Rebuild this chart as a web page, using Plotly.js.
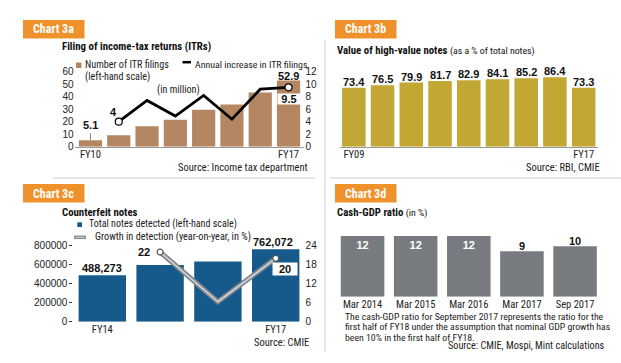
<!DOCTYPE html>
<html><head><meta charset="utf-8">
<script src="https://cdn.plot.ly/plotly-3.0.1.min.js"></script>
<style>html,body{margin:0;padding:0;background:#fff}#c{width:621px;height:363px}</style>
</head><body><div id="c"></div>
<script>
// ---- data ----
const itrYears = ['FY10','FY11','FY12','FY13','FY14','FY15','FY16','FY17'];
const itrFilings = [5.1, 9.1, 16.3, 21.5, 29.6, 33.7, 43.3, 52.9];
const itrIncrease = [null, 4, 7.4, 4.9, 8.2, 4.4, 9.2, 9.5];
const itrTickLabels = ['FY10','FY17'];

const hvYears = ['FY09','FY10','FY11','FY12','FY13','FY14','FY15','FY16','FY17'];
const hvShare = [73.4, 76.5, 79.9, 81.7, 82.9, 84.1, 85.2, 86.4, 73.3];
const hvTickLabels = ['FY09','FY17'];

const cfYears = ['FY14','FY15','FY16','FY17'];
const cfNotes = [488273, 595700, 633200, 762072];
const cfGrowth = [null, 22, 6.3, 20];
const cfTickLabels = ['FY14','FY17'];

const cgPeriods = ['Mar 2014','Mar 2015','Mar 2016','Mar 2017','Sep 2017'];
const cgRatio = [12, 12, 12, 9, 10];

// ---- helpers ----
const W = 621, H = 363;
const px = x => x / W;
const py = y => 1 - y / H;
const NF = "'Liberation Sans Narrow','Roboto Condensed','DejaVu Sans Condensed',sans-serif";
const DF = "'Liberation Sans Narrow','Liberation Sans',Arial,sans-serif";
const ORANGE = '#F0922B';
const C_ITR = '#B48762', C_HV = '#C2A734', C_CF = '#155A8A', C_CG = '#787B80';

const fmt = v => v.toLocaleString('en-US');

const traces = [
  {type:'bar', x:itrYears, y:itrFilings, xaxis:'x', yaxis:'y', marker:{color:C_ITR}, hoverinfo:'none'},
  {type:'scatter', mode:'lines+markers', x:itrYears, y:itrIncrease, xaxis:'x', yaxis:'y2',
   line:{color:'#000', width:2.8}, connectgaps:false,
   marker:{size:7, color:'#fff', line:{color:'#000', width:1.2},
     opacity:itrIncrease.map((v,i)=> (i===1||i===itrIncrease.length-1)?1:0)}, hoverinfo:'none'},
  {type:'bar', x:hvYears, y:hvShare, xaxis:'x2', yaxis:'y3', marker:{color:C_HV}, hoverinfo:'none'},
  {type:'bar', x:cfYears, y:cfNotes, xaxis:'x3', yaxis:'y4', marker:{color:C_CF}, hoverinfo:'none'},
  {type:'scatter', mode:'lines', x:cfYears, y:cfGrowth, xaxis:'x3', yaxis:'y5',
   line:{color:'#80868c', width:5}, hoverinfo:'none'},
  {type:'scatter', mode:'lines+markers', x:cfYears, y:cfGrowth, xaxis:'x3', yaxis:'y5',
   line:{color:'#d3d6da', width:1.6},
   marker:{size:6, color:'#fff', line:{color:'#555', width:1.2},
     opacity:cfGrowth.map((v,i)=> (i===1||i===3)?1:0)}, hoverinfo:'none'},
  {type:'bar', x:cgPeriods, y:cgRatio, xaxis:'x4', yaxis:'y6', marker:{color:C_CG},
   text:cgRatio.map((v,i)=> i<3?String(v):''), textposition:'inside',
   insidetextanchor:'end', cliponaxis:false,
   insidetextfont:{family:DF, size:11, color:'#fff', weight:'bold'}, hoverinfo:'none'}
];

const tickF = {family:DF, size:10, color:'#222'};
const catAxis = (d0,d1,anchor,extra) => Object.assign({domain:[px(d0),px(d1)], anchor:anchor, type:'category',
  showgrid:false, zeroline:false, ticks:'', tickfont:{family:NF, size:10.5, color:'#222'}, fixedrange:true}, extra||{});

const layout = {
  width:W, height:H, margin:{l:0,r:0,t:0,b:0}, paper_bgcolor:'#fff', plot_bgcolor:'rgba(0,0,0,0)',
  showlegend:false, bargap:0.18,
  font:{family:NF, color:'#222'},
  xaxis: catAxis(74.6,304.4,'y',{tickvals:itrTickLabels, ticktext:itrTickLabels, showline:true, linecolor:'#999', linewidth:1, ticklabelstandoff:-2}),
  yaxis: {domain:[py(146.7),py(71.7)], anchor:'x', range:[0,60], dtick:10, showgrid:false, zeroline:false,
          tickfont:tickF, ticks:'', fixedrange:true},
  yaxis2:{overlaying:'y', side:'right', anchor:'x', range:[0,12], dtick:2, showgrid:false, zeroline:false,
          tickfont:tickF, ticks:'', fixedrange:true},
  xaxis2: catAxis(339.5,598,'y3',{tickvals:hvTickLabels, ticktext:hvTickLabels, showline:true, linecolor:'#999', linewidth:1, ticklabelstandoff:-2}),
  yaxis3:{domain:[py(146.7),py(66.4)], anchor:'x2', range:[0,100], visible:false, fixedrange:true},
  xaxis3: catAxis(73.4,304.6,'y4',{tickvals:cfTickLabels, ticktext:cfTickLabels}),
  yaxis4:{domain:[py(321.7),py(245.7)], anchor:'x3', range:[0,800000], dtick:200000, showgrid:false, zeroline:false,
          tickfont:tickF, ticks:'outside', ticklen:3, tickcolor:'#333', tickformat:'d', fixedrange:true},
  yaxis5:{overlaying:'y4', side:'right', anchor:'x3', range:[0,24], dtick:6, showgrid:false, zeroline:false,
          tickfont:tickF, ticks:'', fixedrange:true},
  xaxis4: catAxis(336,601.6,'y6',{}),
  yaxis6:{domain:[py(296.7),py(225.9)], anchor:'x4', range:[0,14], visible:false, fixedrange:true},
  shapes:[], annotations:[]
};

const S = layout.shapes, A = layout.annotations;
function rect(x0,y0,x1,y1,color){ S.push({type:'rect', xref:'paper', yref:'paper', x0:px(x0), x1:px(x1), y0:py(y1), y1:py(y0), fillcolor:color, line:{width:0}, layer:'below'}); }
function seg(x0,y0,x1,y1,color,w){ S.push({type:'line', xref:'paper', yref:'paper', x0:px(x0), x1:px(x1), y0:py(y0), y1:py(y1), line:{color:color, width:w}}); }
function txt(x,y,t,o){ A.push(Object.assign({xref:'paper', yref:'paper', x:px(x), y:py(y), text:t, showarrow:false,
   xanchor:'left', yanchor:'middle', font:{family:NF, size:10.5, color:'#222'}}, o||{})); }

// separators
seg(325,40,325,352,'#cfcfcf',1);
seg(53,178,315,178,'#cfcfcf',1);
seg(330,178,621,178,'#cfcfcf',1);

// chart boxes
[[23,20,'Chart 3a'],[335,20,'Chart 3b'],[23,184,'Chart 3c'],[335,184,'Chart 3d']].forEach(b=>{
  rect(b[0], b[1], b[0]+61.5, b[1]+18.5, ORANGE);
  txt(b[0]+30.75, b[1]+9.5, '<b>'+b[2]+'</b>', {xanchor:'center', font:{family:NF, size:12, color:'#fff'}});
});

// titles
const TF = {family:NF,size:10.8,color:'#111'};
txt(59.5,46.5,'<b>Filing of income-tax returns (ITRs)</b>',{font:TF});
txt(335,50,'<b>Value of high-value notes</b> <span style="font-size:9.8px">(as a % of total notes)</span>',{font:TF});
txt(59.5,212,'<b>Counterfeit notes</b>',{font:TF});
txt(335,212,'<b>Cash-GDP ratio</b> <span style="font-size:9.8px">(in %)</span>',{font:TF});

// legend 3a
const LF = {family:NF, size:10.1, color:'#222'};
rect(76,62.5,81.5,68,C_ITR);
txt(83,64.5,'Number of ITR filings',{font:LF});
txt(83,77,'(left-hand scale)',{font:LF});
seg(182.5,62.2,191,62.2,'#000',2.5);
txt(192.5,64,'Annual increase in ITR filings',{font:{family:NF, size:9.9, color:'#222'}});
txt(178,90.3,'(in million)',{xanchor:'center', font:LF});

// legend 3c
rect(77.3,222.3,82,227,C_CF);
txt(87.3,224.3,'Total notes detected (left-hand scale)',{font:{family:NF,size:10,color:'#222'}});
seg(74,237.3,86,237.3,'#80868c',3.5);
seg(74.5,237.3,85.5,237.3,'#d3d6da',1);
txt(92.7,236.7,'Growth in detection (year-on-year, in %)',{font:{family:NF,size:10.2,color:'#222'}});

// sources
txt(310,167,'Source: Income tax department',{xanchor:'right'});
txt(602,167.5,'Source: RBI, CMIE',{xanchor:'right'});
txt(311,342.3,'Source: CMIE',{xanchor:'right'});
txt(607,345.7,'Source: CMIE, Mospi, Mint calculations',{xanchor:'right', font:{family:NF,size:10.2,color:'#222'}});

// note 3d
const NTF = {family:NF, size:9.8, color:'#222'};
txt(343,316,'The cash-GDP ratio for September 2017 represents the ratio for the',{font:NTF});
txt(343,326.5,'first half of FY18 under the assumption that nominal GDP growth has',{font:NTF});
txt(343,337,'been 10% in the first half of FY18.',{font:NTF});

// data labels 3a
const bl = {family:DF, size:11, color:'#111'};
const n3 = itrYears.length-1;
A.push({xref:'x', yref:'y', x:itrYears[0], y:itrFilings[0], text:'<b>'+itrFilings[0].toFixed(1)+'</b>', showarrow:true,
  arrowhead:0, arrowwidth:1, arrowcolor:'#888', ax:0, ay:-7, standoff:0, font:bl, yanchor:'bottom'});
A.push({xref:'x', yref:'y', x:itrYears[n3], y:itrFilings[n3], text:'<b>'+itrFilings[n3].toFixed(1)+'</b>', showarrow:false,
  yanchor:'bottom', yshift:-3, font:bl});
A.push({xref:'x', yref:'y2', x:itrYears[1], y:itrIncrease[1], text:'<b>'+itrIncrease[1]+'</b>', showarrow:false,
  xshift:-5, yshift:10, font:bl});
A.push({xref:'x', yref:'y2', x:itrYears[n3], y:itrIncrease[n3], text:'<b>'+itrIncrease[n3].toFixed(1)+'</b>', showarrow:false,
  yshift:-12, bgcolor:'#fff', width:22, height:10, borderpad:0, font:bl});

// data labels 3b
hvYears.forEach((c,i)=> A.push({xref:'x2', yref:'y3', x:c, y:hvShare[i], text:'<b>'+hvShare[i].toFixed(1)+'</b>',
  showarrow:false, yanchor:'bottom', yshift:-2, font:bl}));

// data labels 3c
A.push({xref:'x3', yref:'y4', x:cfYears[0], y:cfNotes[0], text:'<b>'+fmt(cfNotes[0])+'</b>', showarrow:false, yanchor:'bottom', yshift:-1, font:bl});
A.push({xref:'x3', yref:'y4', x:cfYears[3], y:cfNotes[3], text:'<b>'+fmt(cfNotes[3])+'</b>', showarrow:false, yanchor:'bottom', xshift:-3, yshift:-1, font:bl});
A.push({xref:'x3', yref:'y5', x:cfYears[1], y:cfGrowth[1], text:'<b>'+cfGrowth[1]+'</b>', showarrow:false, xanchor:'right', xshift:-8, font:bl});
A.push({xref:'x3', yref:'y5', x:cfYears[3], y:cfGrowth[3], text:'<b>'+cfGrowth[3]+'</b>', showarrow:false, xshift:9, yshift:-11,
  bgcolor:'#fff', width:24, height:12, borderpad:0, font:bl});

// data labels 3d (outside ones)
cgPeriods.forEach((c,i)=>{ if(i>=3) A.push({xref:'x4', yref:'y6', x:c, y:cgRatio[i], text:'<b>'+cgRatio[i]+'</b>',
  showarrow:false, yanchor:'bottom', yshift:-3, font:bl}); });

Plotly.newPlot('c', traces, layout, {staticPlot:true, displayModeBar:false});
</script></body></html>
